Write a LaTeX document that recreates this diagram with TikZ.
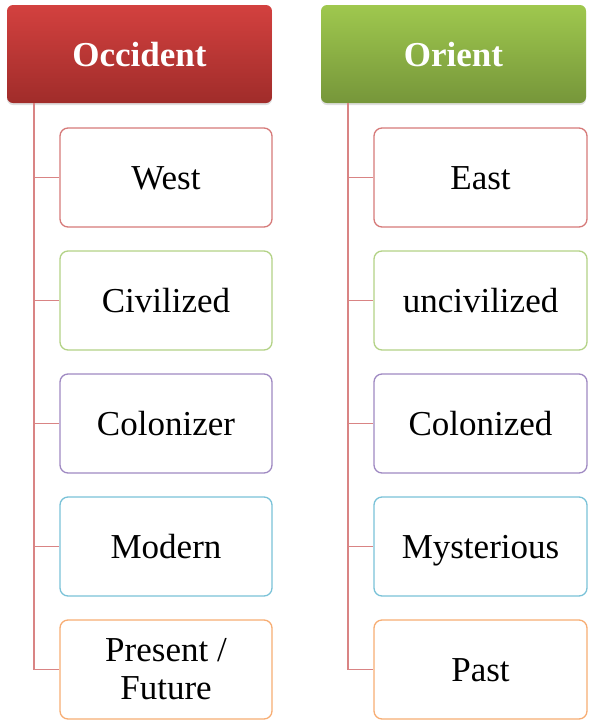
\documentclass[tikz,border=0pt]{standalone}
\usepackage{fontspec}
\setmainfont{Liberation Serif}
\usetikzlibrary{shadows}
\definecolor{hdrRedT}{HTML}{D3413F}
\definecolor{hdrRedB}{HTML}{A02C2A}
\definecolor{hdrGrnT}{HTML}{9FC84E}
\definecolor{hdrGrnB}{HTML}{76963A}
\definecolor{cRed}{HTML}{D67A79}
\definecolor{cGreen}{HTML}{B3D286}
\definecolor{cPurple}{HTML}{9F89C2}
\definecolor{cCyan}{HTML}{7AC2D8}
\definecolor{cOrange}{HTML}{F7AD73}
\definecolor{lineRed}{HTML}{D98484}
\tikzset{
  header/.style={rounded corners=6pt, minimum width=265pt, minimum height=98pt,
    text=white, font=\fontsize{35}{40}\selectfont\bfseries, inner sep=0pt,
    text height=24pt, text depth=0pt,
    drop shadow={shadow xshift=0pt, shadow yshift=-2pt, opacity=0.25}},
  child/.style={draw=#1, line width=1.3pt, fill=white, rounded corners=8pt,
    minimum height=99pt, inner sep=0pt, align=center,
    font=\fontsize{35}{40}\selectfont},
  onel/.style={text height=24pt, text depth=0pt},
  conn/.style={draw=lineRed, line width=1.6pt}
}
\begin{document}
\begin{tikzpicture}[x=1pt,y=-1pt]
\useasboundingbox (0,0) rectangle (592,721);
% headers
\node[header, top color=hdrRedT, bottom color=hdrRedB] (occ) at (139.5,54) {Occident};
\node[header, top color=hdrGrnT, bottom color=hdrGrnB] (ori) at (453.5,54) {Orient};
% left children
\node[child=cRed, onel, minimum width=212pt] (west) at (166,177.5) {West};
\node[child=cGreen, onel, minimum width=212pt] (civ) at (166,300.5) {Civilized};
\node[child=cPurple, onel, minimum width=212pt] (colr) at (166,423.5) {Colonizer};
\node[child=cCyan, onel, minimum width=212pt] (mod) at (166,546.5) {Modern};
\node[child=cOrange, minimum width=212pt] (pres) at (166,669.5) {Present /\\[-2pt]Future};
% right children
\node[child=cRed, onel, minimum width=213pt] (east) at (480.5,177.5) {East};
\node[child=cGreen, onel, minimum width=213pt] (unc) at (480.5,300.5) {uncivilized};
\node[child=cPurple, onel, minimum width=213pt] (cold) at (480.5,423.5) {Colonized};
\node[child=cCyan, onel, minimum width=213pt] (mys) at (480.5,546.5) {Mysterious};
\node[child=cOrange, onel, minimum width=213pt] (past) at (480.5,669.5) {Past};
% connectors
\coordinate (lt) at (34,103);
\coordinate (rt) at (348,103);
\foreach \c in {west,civ,colr,mod,pres}{
  \draw[conn] (lt) |- (\c.west);
}
\foreach \c in {east,unc,cold,mys,past}{
  \draw[conn] (rt) |- (\c.west);
}
\end{tikzpicture}
\end{document}
